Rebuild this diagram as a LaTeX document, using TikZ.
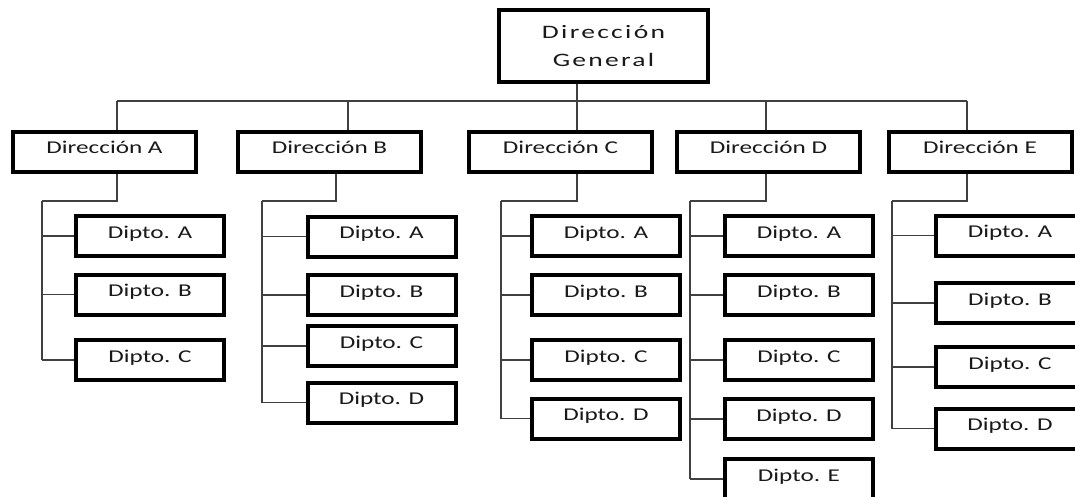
\documentclass[tikz,border=0pt]{standalone}
\usepackage{fontspec}
\setmainfont{Carlito}[FakeStretch=1.4]
\newfontfamily\titlefont{Carlito}[FakeStretch=1.45,LetterSpace=12]

\begin{document}
\begin{tikzpicture}[x=1pt,y=-1pt]
        \tikzstyle{caja}=[draw, line width=4pt, fill=white, inner sep=0pt, text=black!90, font=\fontsize{18}{22}\selectfont]
        \tikzstyle{direccion}=[caja, minimum width=183pt, minimum height=40pt, text height=12pt, text depth=8pt]
        \tikzstyle{dipto}=[caja, minimum width=148pt, minimum height=40pt, text height=12pt, text depth=8pt]
        \tikzstyle{link}=[line width=1.3pt, black!75]
        \useasboundingbox (0,0) rectangle (1075,497);
        \clip (0,0) rectangle (1075,497);

        % cabeza
        \node[caja, minimum width=209pt, minimum height=72pt, align=center, font=\titlefont\fontsize{19}{28}\selectfont](gen) at (603.5,46) {Dirección\\General};

        % direcciones
        \node[direccion](dirA) at (104.5,152) {Dirección A};
        \node[direccion](dirB) at (329.5,152) {Dirección B};
        \node[direccion](dirC) at (560.5,152) {Dirección C};
        \node[direccion](dirD) at (768.5,152) {Dirección D};
        \node[direccion](dirE) at (980,152) {Dirección E};

        % departamentos A
        \node[dipto](aA) at (150,236) {Dipto. A};
        \node[dipto](aB) at (150,294.5) {Dipto. B};
        \node[dipto](aC) at (150,360) {Dipto. C};
        % departamentos B
        \node[dipto](bA) at (381.5,236.5) {Dipto. A};
        \node[dipto](bB) at (381.5,295) {Dipto. B};
        \node[dipto](bC) at (381.5,346) {Dipto. C};
        \node[dipto](bD) at (381.5,402.5) {Dipto. D};
        % departamentos C
        \node[dipto](cA) at (606,236) {Dipto. A};
        \node[dipto](cB) at (606,295) {Dipto. B};
        \node[dipto](cC) at (606,360) {Dipto. C};
        \node[dipto](cD) at (606,418.5) {Dipto. D};
        % departamentos D
        \node[dipto](dA) at (799,236) {Dipto. A};
        \node[dipto](dB) at (799,295) {Dipto. B};
        \node[dipto](dC) at (799,360) {Dipto. C};
        \node[dipto](dD) at (799,419) {Dipto. D};
        \node[dipto](dE) at (799,479) {Dipto. E};
        % departamentos E
        \node[dipto](eA) at (1010,235.5) {Dipto. A};
        \node[dipto](eB) at (1010,303) {Dipto. B};
        \node[dipto](eC) at (1010,367) {Dipto. C};
        \node[dipto](eD) at (1010,428.5) {Dipto. D};

        % bus principal
        \draw[link] (577,0 |- gen.south) -- (577,101);
        \draw[link] (117,101) -- (967,101);
        \foreach \d/\xt/\xb/\xs in {A/117/117/42, B/348/336/262, C/577/577/501, D/766/766/690, E/967/967/892} {
            \draw[link] (\xt,101) -- (\xt,0 |- dir\d.north);
            \draw[link] (\xb,0 |- dir\d.south) |- (\xs,201);
        }

        % ramas
        \draw[link] (42,201) -- (42,0 |- aC.west);
        \foreach \n in {aA,aB,aC} \draw[link] (42,0 |- \n.west) -- (\n.west);
        \draw[link] (262,201) -- (262,0 |- bD.west);
        \foreach \n in {bA,bB,bC,bD} \draw[link] (262,0 |- \n.west) -- (\n.west);
        \draw[link] (501,201) -- (501,0 |- cD.west);
        \foreach \n in {cA,cB,cC,cD} \draw[link] (501,0 |- \n.west) -- (\n.west);
        \draw[link] (690,201) -- (690,0 |- dE.west);
        \foreach \n in {dA,dB,dC,dD,dE} \draw[link] (690,0 |- \n.west) -- (\n.west);
        \draw[link] (892,201) -- (892,0 |- eD.west);
        \foreach \n in {eA,eB,eC,eD} \draw[link] (892,0 |- \n.west) -- (\n.west);
    \end{tikzpicture}
\end{document}
